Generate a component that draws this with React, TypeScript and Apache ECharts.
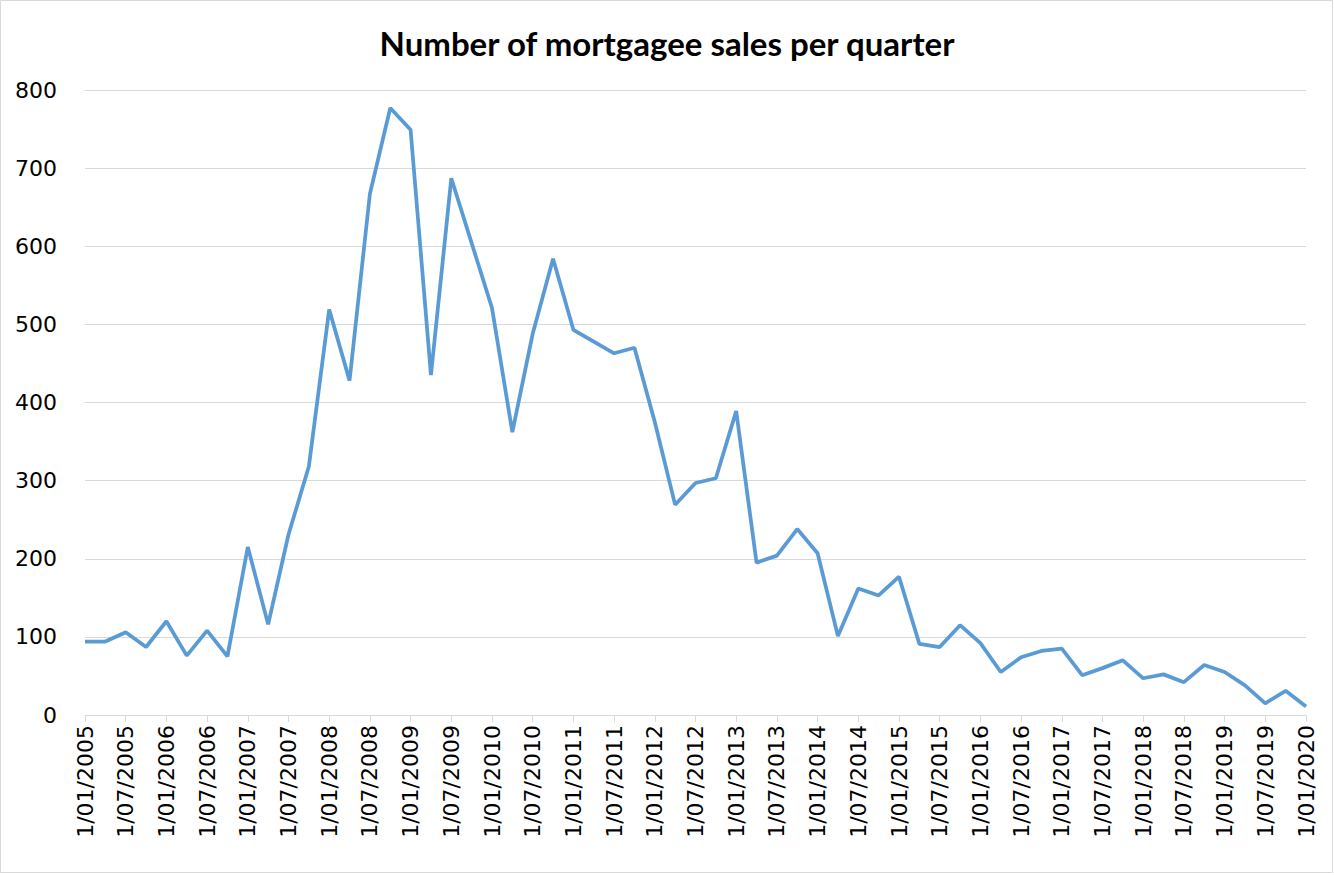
import React, { useEffect, useRef } from "react";
import * as echarts from "echarts";

const years = [2005, 2006, 2007, 2008, 2009, 2010, 2011, 2012, 2013, 2014, 2015, 2016, 2017, 2018, 2019, 2020];
const months = ["01", "04", "07", "10"];
const categories: string[] = [];
years.forEach((y) => {
  months.forEach((m) => {
    if (y < 2020 || m === "01") categories.push(`1/${m}/${y}`);
  });
});

const sales = [
  94, 94, 106, 87, 120, 76, 108, 75,
  215, 116, 231, 318, 519, 428, 667, 777,
  749, 435, 687, 604, 521, 362, 488, 584,
  493, 478, 463, 470, 375, 269, 297, 303,
  389, 195, 204, 238, 207, 101, 162, 153,
  177, 91, 87, 115, 92, 55, 74, 82,
  85, 51, 60, 70, 47, 52, 42, 64,
  55, 38, 15, 31, 11,
];

const yTicks = [0, 100, 200, 300, 400, 500, 600, 700, 800];

export default function App() {
  const ref = useRef<HTMLDivElement>(null);
  useEffect(() => {
    if (!ref.current) return;
    const chart = echarts.init(ref.current, null, { renderer: "svg" });
    chart.setOption({
      animation: false,
      backgroundColor: "#ffffff",
      title: {
        text: "Number of mortgagee sales per quarter",
        left: "center",
        top: 21,
        textStyle: { fontFamily: "Lato", fontWeight: "bold", fontSize: 33, color: "#000" },
      },
      graphic: [
        {
          type: "rect",
          shape: { x: 0.5, y: 0.5, width: 1332, height: 872 },
          style: { fill: "none", stroke: "#d9d9d9", lineWidth: 1 },
          silent: true,
        },
      ],
      grid: { left: 85, right: 28, top: 90, bottom: 160, containLabel: false },
      xAxis: {
        type: "category",
        data: categories,
        boundaryGap: false,
        axisLine: { show: true, lineStyle: { color: "#d9d9d9", width: 1 } },
        axisTick: { show: true, interval: 1, length: 7, lineStyle: { color: "#d9d9d9" } },
        axisLabel: {
          interval: 1,
          rotate: 90,
          margin: 10,
          fontFamily: "DejaVu Sans",
          fontSize: 22,
          color: "#000",
        },
        splitLine: { show: false },
      },
      yAxis: {
        type: "value",
        min: yTicks[0],
        max: yTicks[yTicks.length - 1],
        interval: 100,
        axisLine: { show: false },
        axisTick: { show: false },
        axisLabel: {
          margin: 28,
          fontFamily: "DejaVu Sans",
          fontSize: 22,
          color: "#000",
        },
        splitLine: { show: true, lineStyle: { color: "#d9d9d9", width: 1 } },
      },
      series: [
        {
          type: "line",
          data: sales,
          symbol: "none",
          lineStyle: { color: "#5b9bd5", width: 3.75 },
          itemStyle: { color: "#5b9bd5" },
        },
      ],
    });
    return () => chart.dispose();
  }, []);
  return (
    <div
      ref={ref}
      style={{ position: "fixed", left: 0, top: 0, width: 1334, height: 875 }}
    />
  );
}
